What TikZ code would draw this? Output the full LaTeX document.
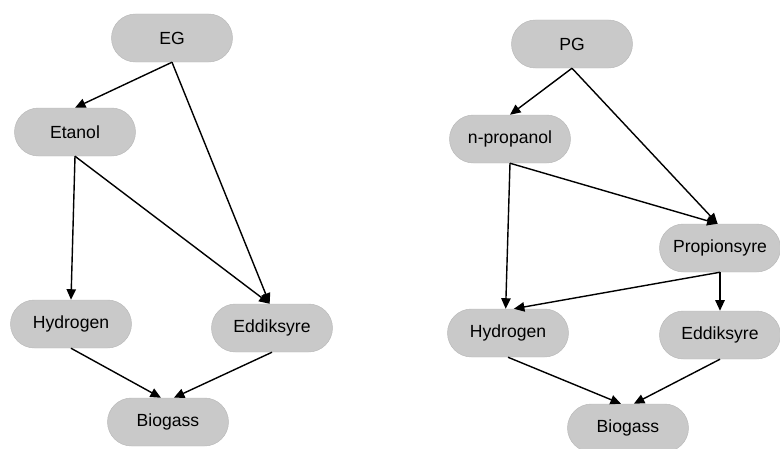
\documentclass[tikz,border=0pt]{standalone}
\usepackage{fontspec}
\setmainfont{Liberation Sans}
\usetikzlibrary{shapes.misc, arrows.meta}

\tikzset{
  stoff/.style={rounded rectangle, draw=gray!55, fill=gray!42,
    minimum width=3.63cm, minimum height=1.44cm, inner sep=0pt,
    font=\fontsize{15}{18}\selectfont},
  pil/.style={-{Triangle[length=9pt,width=8pt]}, line width=1.2pt}
}

\begin{document}
\begin{tikzpicture}[x=0.03cm, y=-0.03cm]
            \useasboundingbox (0,0) rectangle (780,449);
            % EG
            \node[stoff] (eg) at (172,38) {EG};
            \node[stoff] (etanol) at (75,132) {Etanol};
            \node[stoff] (hyd1) at (71,324) {Hydrogen};
            \node[stoff] (edd1) at (272,328) {Eddiksyre};
            \node[stoff] (bio1) at (168,422) {Biogass};
            \draw[pil] (eg.south) -- (etanol.north);
            \draw[pil] (eg.south) -- ([xshift=-2pt]edd1.north);
            \draw[pil] (etanol.south) -- (hyd1.north);
            \draw[pil] (etanol.south) -- ([xshift=-2pt]edd1.north);
            \draw[pil] (hyd1.south) -- ([xshift=-6pt]bio1.north);
            \draw[pil] (edd1.south) -- ([xshift=5pt]bio1.north);
            % PG
            \node[stoff] (pg) at (572,44) {PG};
            \node[stoff] (prop) at (510,139) {n-propanol};
            \node[stoff] (syre) at (720,248) {Propionsyre};
            \node[stoff] (hyd2) at (508,333) {Hydrogen};
            \node[stoff] (edd2) at (720,335) {Eddiksyre};
            \node[stoff] (bio2) at (628,428) {Biogass};
            \draw[pil] (pg.south) -- (prop.north);
            \draw[pil] (pg.south) -- ([xshift=-2pt]syre.north);
            \draw[pil] (prop.south) -- ([xshift=-2pt]hyd2.north);
            \draw[pil] (prop.south) -- ([xshift=-2pt]syre.north);
            \draw[pil] (syre.south) -- ([xshift=5pt]hyd2.north);
            \draw[pil] (syre.south) -- (edd2.north);
            \draw[pil] (hyd2.south) -- ([xshift=-6pt]bio2.north);
            \draw[pil] (edd2.south) -- ([xshift=5pt]bio2.north);
          \end{tikzpicture}
\end{document}
